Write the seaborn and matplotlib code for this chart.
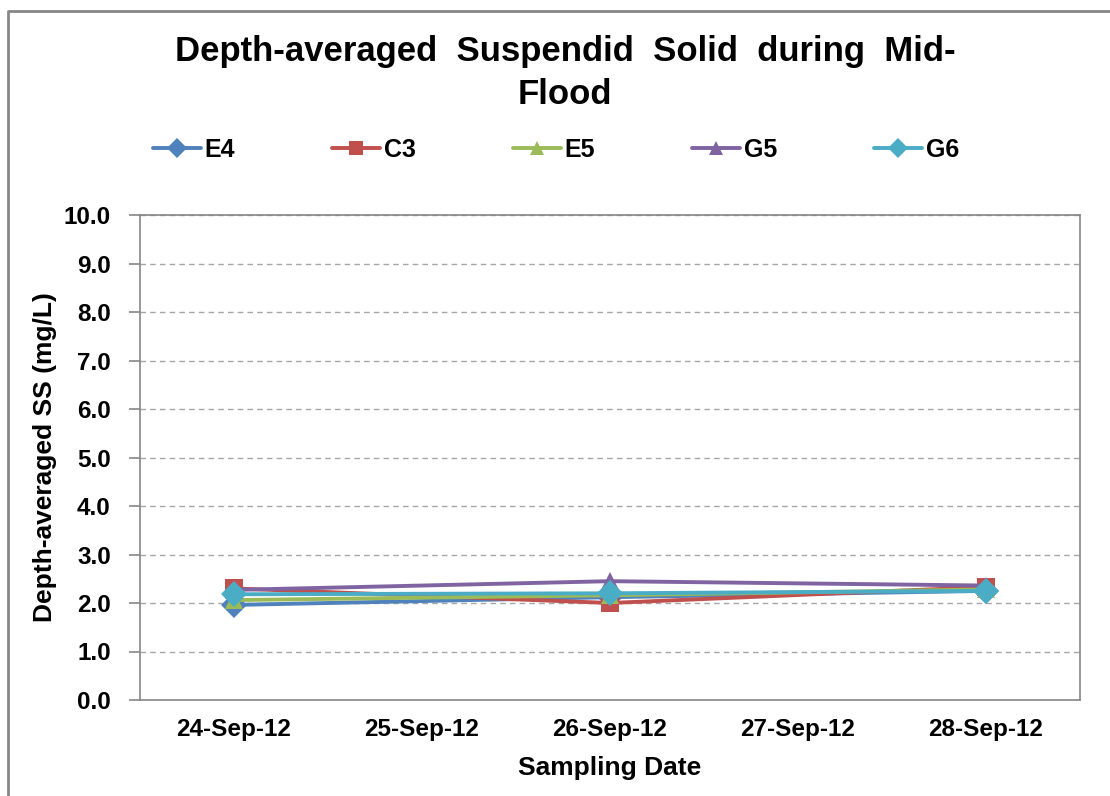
import matplotlib
matplotlib.use("Agg")
import matplotlib.pyplot as plt
import matplotlib.dates as mdates
import pandas as pd
import seaborn as sns
from matplotlib.lines import Line2D
from matplotlib.ticker import FormatStrFormatter

# Data
dates = ["2012-09-24", "2012-09-26", "2012-09-28"]
stations = ["E4", "C3", "E5", "G5", "G6"]
e4 = [1.96, 2.12, 2.25]
c3 = [2.30, 2.00, 2.33]
e5 = [2.06, 2.16, 2.28]
g5 = [2.27, 2.45, 2.36]
g6 = [2.18, 2.20, 2.25]
colors = ["#4F81BD", "#C0504D", "#9BBB59", "#8064A2", "#4BACC6"]
marker_list = ["D", "s", "^", "^", "D"]

df = pd.DataFrame({
    "date": pd.to_datetime(dates * 5),
    "station": [s for s in stations for _ in dates],
    "value": e4 + c3 + e5 + g5 + g6,
})

sns.set_style("white")
plt.rcParams["font.family"] = ["Liberation Sans", "DejaVu Sans"]
plt.rcParams["font.weight"] = "bold"
plt.rcParams["text.color"] = "black"
plt.rcParams["axes.labelcolor"] = "black"
plt.rcParams["xtick.labelcolor"] = "black"
plt.rcParams["ytick.labelcolor"] = "black"

fig = plt.figure(figsize=(11.1, 7.96), dpi=100)
ax = fig.add_axes([140 / 1110, 1 - 700 / 796, 940 / 1110, 485 / 796])

sns.lineplot(data=df, x="date", y="value", hue="station", style="station",
             hue_order=stations, style_order=stations, palette=colors,
             markers=dict(zip(stations, marker_list)), dashes=False,
             linewidth=2.8, markersize=13, markeredgewidth=0, ax=ax,
             legend=False)

# axes styling
ax.set_ylim(0, 10)
ax.set_yticks([i for i in range(11)])
ax.yaxis.set_major_formatter(FormatStrFormatter("%.1f"))
ax.yaxis.grid(True, linestyle=(0, (4, 3)), color="#A6A6A6", linewidth=1)
ax.set_axisbelow(True)

start = pd.Timestamp("2012-09-24")
ax.set_xlim(start - pd.Timedelta(hours=12), start + pd.Timedelta(days=4, hours=12))
ax.xaxis.set_major_locator(mdates.DayLocator())
ax.xaxis.set_major_formatter(mdates.DateFormatter("%d-%b-%y"))
ax.set_xticks([start + pd.Timedelta(hours=12 + 24 * i) for i in range(-1, 5)], minor=True)
ax.tick_params(axis="x", which="major", length=0, pad=13, labelsize=17.5)
ax.tick_params(axis="x", which="minor", length=8, width=1.2, color="#868686", direction="out")
ax.tick_params(axis="y", which="major", length=8, width=1.2, color="#868686", direction="out",
               pad=13, labelsize=17.5, left=True)
for lbl in ax.get_xticklabels() + ax.get_yticklabels():
    lbl.set_fontweight("bold")

for sp in ax.spines.values():
    sp.set_color("#868686")
    sp.set_linewidth(1.2)

ax.set_xlabel("Sampling Date", fontsize=19, fontweight="bold", labelpad=11)
ax.set_ylabel("Depth-averaged SS (mg/L)", fontsize=19, fontweight="bold", labelpad=5)

# title
fig.text(565 / 1110, 1 - 52 / 796, "Depth-averaged  Suspendid  Solid  during  Mid-",
         ha="center", va="center", fontsize=25, fontweight="bold")
fig.text(565 / 1110, 1 - 94 / 796, "Flood", ha="center", va="center",
         fontsize=25, fontweight="bold")

# legend
handles = [Line2D([0], [0], color=c, marker=m, lw=2.8, markersize=10, markeredgewidth=0)
           for c, m in zip(colors, marker_list)]
leg = fig.legend(handles, stations, loc="center", bbox_to_anchor=(556 / 1110, 1 - 150 / 796),
                 ncol=5, frameon=False, fontsize=18, handlelength=1.9, handletextpad=0.15,
                 columnspacing=3.9)
for t in leg.get_texts():
    t.set_fontweight("bold")

# outer chart border (top and left)
fig.add_artist(Line2D([8 / 1110, 8 / 1110, 1.0], [0.0, 1 - 11 / 796, 1 - 11 / 796],
                      transform=fig.transFigure, color="#868686", lw=2))

fig.savefig("out.png", dpi=100)
